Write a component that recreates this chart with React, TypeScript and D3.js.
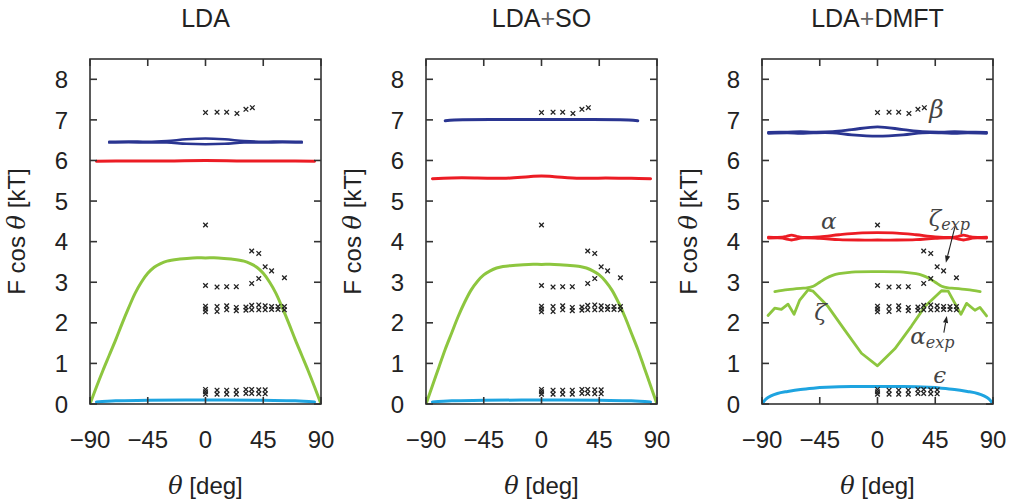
import React from "react";
import * as d3 from "d3";

// ---------- data ----------
const panelTitles = ["LDA", "LDA+SO", "LDA+DMFT"];
const xTicks = [-90, -45, 0, 45, 90];
const yTicks = [0, 1, 2, 3, 4, 5, 6, 7, 8];

type P = [number, number];

// experimental points (same in all panels): [theta, value]
const expPoints: P[] = [
  [0, 7.18], [9, 7.19], [16.5, 7.19], [24.5, 7.16], [31.5, 7.26], [36.5, 7.3],
  [0, 4.41],
  [36, 3.77], [41.5, 3.71], [46.5, 3.38], [51.5, 3.28], [61.5, 3.11],
  [36, 2.97], [41.5, 3.09],
  [0, 2.92], [9, 2.88], [16.5, 2.89], [24, 2.89],
  [0, 2.41], [0, 2.34], [0, 2.27],
  [9, 2.4], [9, 2.28], [16.5, 2.42], [16.5, 2.32], [24, 2.38], [24, 2.3],
  [31.5, 2.39], [31.5, 2.31], [36, 2.43], [36, 2.32], [41.5, 2.44], [41.5, 2.32],
  [46.5, 2.42], [46.5, 2.32], [51.5, 2.4], [51.5, 2.33], [56.5, 2.4], [56.5, 2.33],
  [61.5, 2.4], [61.5, 2.32],
  [0, 0.36], [0, 0.3], [0, 0.24],
  [9, 0.34], [9, 0.24], [16.5, 0.34], [16.5, 0.24], [24, 0.34], [24, 0.24],
  [31.5, 0.36], [31.5, 0.26], [36, 0.36], [36, 0.26], [41.5, 0.35], [41.5, 0.25],
  [46.5, 0.35], [46.5, 0.25],
];

// LDA
const ldaBlueUpper: P[] = [[-75, 6.46], [-60, 6.47], [-45, 6.46], [-30, 6.48], [-15, 6.52], [0, 6.54], [15, 6.52], [30, 6.48], [45, 6.46], [60, 6.47], [75, 6.46]];
const ldaBlueLower: P[] = [[-75, 6.44], [-60, 6.45], [-45, 6.44], [-30, 6.44], [-15, 6.41], [0, 6.4], [15, 6.41], [30, 6.44], [45, 6.44], [60, 6.45], [75, 6.44]];
const ldaRed: P[] = [[-85, 5.98], [-60, 5.99], [-30, 5.99], [0, 6.0], [30, 5.99], [60, 5.99], [85, 5.98]];
const ldaGreen: P[] = [[-90, 0], [-85, 0.42], [-80, 0.82], [-75, 1.2], [-70, 1.58], [-65, 1.98], [-60, 2.36], [-55, 2.72], [-50, 3.0], [-45, 3.22], [-40, 3.37], [-35, 3.46], [-30, 3.52], [-20, 3.57], [-10, 3.6], [0, 3.6], [10, 3.6], [20, 3.57], [30, 3.52], [35, 3.46], [40, 3.37], [45, 3.22], [50, 3.0], [55, 2.72], [60, 2.36], [65, 1.98], [70, 1.58], [75, 1.2], [80, 0.82], [85, 0.42], [90, 0]];
const ldaCyan: P[] = [[-85, 0.05], [-70, 0.08], [-45, 0.09], [0, 0.1], [45, 0.09], [70, 0.08], [85, 0.05]];

// LDA+SO
const soBlue: P[] = [[-75, 6.98], [-68, 7.0], [-30, 7.01], [0, 7.01], [30, 7.01], [68, 7.0], [75, 6.98]];
const soRed: P[] = [[-85, 5.55], [-70, 5.57], [-50, 5.57], [-30, 5.56], [-10, 5.6], [0, 5.62], [10, 5.6], [30, 5.56], [50, 5.57], [70, 5.56], [85, 5.55]];
const soGreen: P[] = [[-90, 0], [-85, 0.45], [-80, 0.9], [-75, 1.35], [-70, 1.75], [-65, 2.15], [-60, 2.5], [-55, 2.8], [-50, 3.02], [-45, 3.18], [-40, 3.28], [-35, 3.35], [-30, 3.39], [-20, 3.42], [-10, 3.44], [0, 3.44], [10, 3.44], [20, 3.42], [30, 3.39], [35, 3.35], [40, 3.28], [45, 3.18], [50, 3.02], [55, 2.8], [60, 2.5], [65, 2.15], [70, 1.75], [75, 1.35], [80, 0.9], [85, 0.45], [90, 0]];
const soCyan: P[] = [[-85, 0.05], [-70, 0.08], [-45, 0.09], [0, 0.1], [45, 0.09], [70, 0.08], [85, 0.05]];

// LDA+DMFT
const dmftBlueUpper: P[] = [[-85, 6.69], [-70, 6.7], [-60, 6.71], [-50, 6.7], [-35, 6.71], [-20, 6.76], [0, 6.83], [20, 6.76], [35, 6.71], [50, 6.7], [60, 6.71], [70, 6.7], [85, 6.69]];
const dmftBlueLower: P[] = [[-85, 6.67], [-70, 6.68], [-60, 6.67], [-50, 6.68], [-35, 6.68], [-20, 6.63], [0, 6.6], [20, 6.63], [35, 6.68], [50, 6.68], [60, 6.67], [70, 6.68], [85, 6.67]];
const dmftRedUpper: P[] = [[-85, 4.11], [-74, 4.11], [-71, 4.13], [-67, 4.16], [-63, 4.13], [-60, 4.11], [-45, 4.12], [-30, 4.17], [-15, 4.21], [0, 4.22], [15, 4.21], [30, 4.17], [45, 4.12], [60, 4.11], [63, 4.13], [67, 4.16], [71, 4.13], [74, 4.11], [85, 4.11]];
const dmftRedLower: P[] = [[-85, 4.09], [-74, 4.09], [-71, 4.06], [-67, 4.04], [-63, 4.06], [-60, 4.09], [-45, 4.08], [-30, 4.05], [-15, 4.04], [0, 4.04], [15, 4.04], [30, 4.05], [45, 4.08], [60, 4.09], [63, 4.06], [67, 4.04], [71, 4.06], [74, 4.09], [85, 4.09]];
const dmftGreenUpper: P[] = [[-80, 2.77], [-70, 2.82], [-60, 2.85], [-55, 2.86], [-50, 2.9], [-45, 3.0], [-40, 3.1], [-35, 3.17], [-30, 3.21], [-20, 3.25], [0, 3.26], [20, 3.25], [30, 3.21], [35, 3.17], [40, 3.1], [45, 3.0], [50, 2.9], [55, 2.86], [60, 2.85], [70, 2.82], [80, 2.77]];
const dmftGreenZeta: P[] = [[-85.3, 2.18], [-80.1, 2.36], [-74.9, 2.33], [-69.7, 2.46], [-65, 2.21], [-60.6, 2.56], [-54.1, 2.81], [-50.2, 2.78], [-38.5, 2.4], [-25.5, 1.82], [-12.5, 1.25], [0, 0.94], [13.5, 1.36], [26.5, 1.92], [36.9, 2.4], [49.9, 2.79], [55.1, 2.78], [65, 2.21], [69.4, 2.48], [75.9, 2.31], [79.8, 2.38], [85, 2.17]];
const dmftCyan: P[] = [[-90, 0.0], [-87, 0.12], [-83, 0.2], [-78, 0.26], [-70, 0.31], [-60, 0.36], [-50, 0.39], [-40, 0.41], [-20, 0.43], [0, 0.43], [20, 0.43], [40, 0.41], [50, 0.39], [60, 0.36], [70, 0.31], [78, 0.26], [83, 0.2], [87, 0.12], [90, 0.0]];

// ---------- style ----------
const BLUE = "#2a3591";
const RED = "#ec1c24";
const GREEN = "#8dc63f";
const CYAN = "#1ea4e0";
const FRAME = "#333333";
const SANS = "'Liberation Sans', Arial, sans-serif";
const SERIF = "'DejaVu Serif', 'Liberation Serif', serif";

type Series = { data: P[]; color: string; width: number; curve: d3.CurveFactory };

const smooth = d3.curveCatmullRom.alpha(0.5);

const panels: Series[][] = [
  [
    { data: ldaGreen, color: GREEN, width: 3, curve: smooth },
    { data: ldaCyan, color: CYAN, width: 3, curve: smooth },
    { data: ldaRed, color: RED, width: 3, curve: smooth },
    { data: ldaBlueUpper, color: BLUE, width: 2.5, curve: smooth },
    { data: ldaBlueLower, color: BLUE, width: 2.5, curve: smooth },
  ],
  [
    { data: soGreen, color: GREEN, width: 3, curve: smooth },
    { data: soCyan, color: CYAN, width: 3, curve: smooth },
    { data: soRed, color: RED, width: 3, curve: smooth },
    { data: soBlue, color: BLUE, width: 3, curve: smooth },
  ],
  [
    { data: dmftGreenUpper, color: GREEN, width: 2.8, curve: smooth },
    { data: dmftGreenZeta, color: GREEN, width: 2.8, curve: d3.curveLinear },
    { data: dmftCyan, color: CYAN, width: 3, curve: smooth },
    { data: dmftRedUpper, color: RED, width: 2.8, curve: smooth },
    { data: dmftRedLower, color: RED, width: 2.8, curve: smooth },
    { data: dmftBlueUpper, color: BLUE, width: 2.8, curve: smooth },
    { data: dmftBlueLower, color: BLUE, width: 2.8, curve: smooth },
  ],
];

const panelLeft = [90, 426, 762];
const PW = 231;
const TOP = 59;
const BOTTOM = 404;
const TICK = 7;
const TICK_FS = 24;

function Panel({ idx }: { idx: number }) {
  const left = panelLeft[idx];
  const x = d3.scaleLinear().domain([-90, 90]).range([left, left + PW]);
  const y = d3.scaleLinear().domain([0, 8.5]).range([BOTTOM, TOP]);
  const cx = left + PW / 2;

  const line = (s: Series) =>
    d3.line<P>().x((d) => x(d[0])).y((d) => y(d[1])).curve(s.curve)(s.data) || "";

  const cross = 2.3;
  return (
    <g>
      <defs>
        <clipPath id={`clip${idx}`}>
          <rect x={left} y={TOP} width={PW} height={BOTTOM - TOP} />
        </clipPath>
      </defs>
      {/* title */}
      <text x={cx} y={27} textAnchor="middle" fontFamily={SANS} fontSize={25} fill="#222">
        {panelTitles[idx].split("+").map((part, i, arr) => (
          <tspan key={i}>
            {part}
            {i < arr.length - 1 ? <tspan fill="#666">+</tspan> : null}
          </tspan>
        ))}
      </text>
      {/* curves */}
      <g clipPath={`url(#clip${idx})`}>
        {panels[idx].map((s, i) => (
          <path key={i} d={line(s)} fill="none" stroke={s.color} strokeWidth={s.width} strokeLinejoin="round" strokeLinecap="round" />
        ))}
        {expPoints.map((p, i) => (
          <g key={i} stroke="#222" strokeWidth={1.3}>
            <line x1={x(p[0]) - cross} y1={y(p[1]) - cross} x2={x(p[0]) + cross} y2={y(p[1]) + cross} />
            <line x1={x(p[0]) - cross} y1={y(p[1]) + cross} x2={x(p[0]) + cross} y2={y(p[1]) - cross} />
          </g>
        ))}
      </g>
      {/* frame */}
      <rect x={left} y={TOP} width={PW} height={BOTTOM - TOP} fill="none" stroke={FRAME} strokeWidth={1.6} />
      {yTicks.map((t) => (
        <g key={`y${t}`}>
          <line x1={left} x2={left + TICK} y1={y(t)} y2={y(t)} stroke={FRAME} strokeWidth={1.6} />
          <line x1={left + PW} x2={left + PW - TICK} y1={y(t)} y2={y(t)} stroke={FRAME} strokeWidth={1.6} />
          <text x={left - 22} y={y(t)} dy="0.36em" textAnchor="end" fontFamily={SANS} fontSize={TICK_FS} fill="#222">
            {t}
          </text>
        </g>
      ))}
      {xTicks.map((t) => (
        <g key={`x${t}`}>
          <line x1={x(t)} x2={x(t)} y1={BOTTOM} y2={BOTTOM - TICK} stroke={FRAME} strokeWidth={1.6} />
          <line x1={x(t)} x2={x(t)} y1={TOP} y2={TOP + TICK} stroke={FRAME} strokeWidth={1.6} />
          <text x={x(t)} y={448} textAnchor="middle" fontFamily={SANS} fontSize={TICK_FS} fill="#222">
            {t < 0 ? `\u2212${Math.abs(t)}` : `${t}`}
          </text>
        </g>
      ))}
      {/* axis labels */}
      <text x={cx} y={494} textAnchor="middle" fontFamily={SANS} fontSize={24} fill="#222">
        <tspan fontFamily={SERIF} fontStyle="italic">θ</tspan>
        <tspan> [deg]</tspan>
      </text>
      <text
        transform={`translate(${left - 65},${(TOP + BOTTOM) / 2}) rotate(-90)`}
        textAnchor="middle"
        fontFamily={SANS}
        fontSize={24}
        fill="#222"
      >
        <tspan>F cos </tspan>
        <tspan fontFamily={SERIF} fontStyle="italic">θ</tspan>
        <tspan> [kT]</tspan>
      </text>
      {idx === 2 ? <Annotations x={x} y={y} /> : null}
    </g>
  );
}

function Annotations({ x, y }: { x: d3.ScaleLinear<number, number>; y: d3.ScaleLinear<number, number> }) {
  const fs = 23;
  const col = "#444";
  const arrow = (x1: number, y1: number, x2: number, y2: number, key: string) => {
    const ang = Math.atan2(y2 - y1, x2 - x1);
    const L = 7, Wd = 2.6;
    const bx = x2 - L * Math.cos(ang), by = y2 - L * Math.sin(ang);
    const px = -Math.sin(ang) * Wd, py = Math.cos(ang) * Wd;
    return (
      <g key={key}>
        <line x1={x1} y1={y1} x2={bx} y2={by} stroke="#222" strokeWidth={1.1} />
        <path d={`M${x2},${y2}L${bx + px},${by + py}L${bx - px},${by - py}Z`} fill="#222" />
      </g>
    );
  };
  return (
    <g fontFamily={SERIF} fontStyle="italic" fill={col}>
      <text x={x(46)} y={y(7.05)} fontSize={25} textAnchor="middle">β</text>
      <text x={x(-38)} y={y(4.3)} fontSize={fs} textAnchor="middle">α</text>
      <text x={x(40)} y={y(4.38)} fontSize={fs}>
        ζ<tspan fontSize={16} dy={4}>exp</tspan>
      </text>
      <text x={x(-44.5)} y={y(2.08)} fontSize={fs} textAnchor="middle">ζ</text>
      <text x={x(25.5)} y={y(1.49)} fontSize={fs}>
        α<tspan fontSize={16} dy={4}>exp</tspan>
      </text>
      <text x={x(43.5)} y={y(0.52)} fontSize={fs}>ϵ</text>
      {arrow(x(60.3), y(4.36), x(53.3), y(3.48), "a1")}
      {arrow(x(51.7), y(1.76), x(54), y(2.17), "a2")}
    </g>
  );
}

export default function App() {
  return (
    <svg width={1012} height={504} style={{ display: "block", position: "absolute", left: 0, top: 0, background: "#fff" }}>
      {[0, 1, 2].map((i) => (
        <Panel key={i} idx={i} />
      ))}
    </svg>
  );
}
